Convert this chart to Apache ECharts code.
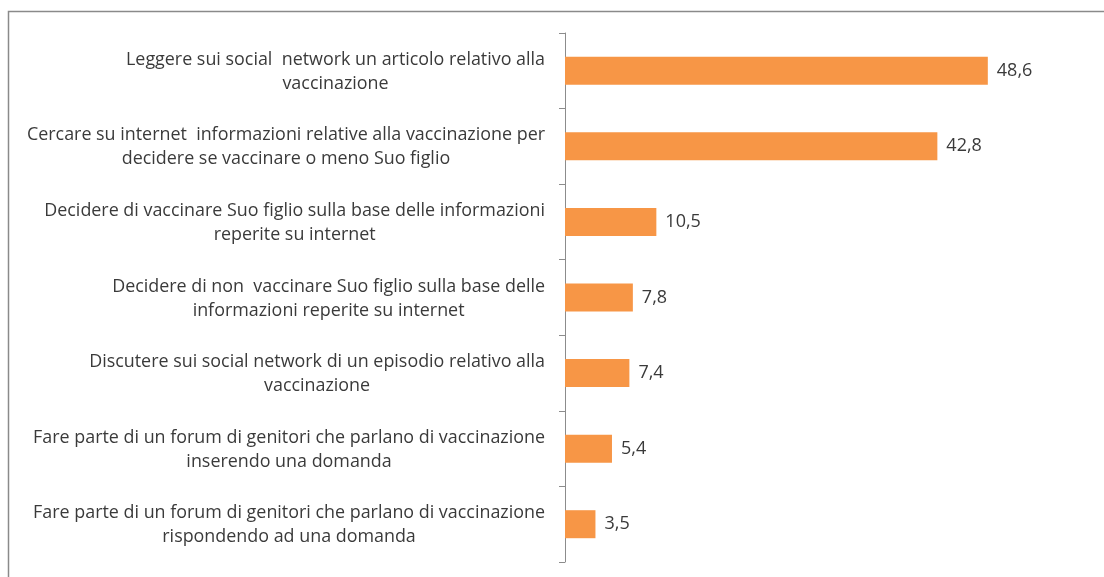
<!DOCTYPE html>
<html>
<head>
<meta charset="utf-8">
<script src="https://cdn.jsdelivr.net/npm/echarts@6/dist/echarts.min.js"></script>
<style>
  html, body { margin: 0; padding: 0; background: #ffffff; }
  #chart { width: 1104px; height: 577px; }
</style>
</head>
<body>
<div id="chart"></div>
<script>
// Activities related to vaccination online (percentages), top to bottom
const categories = [
  'Leggere sui social  network un articolo relativo alla\nvaccinazione',
  'Cercare su internet  informazioni relative alla vaccinazione per\ndecidere se vaccinare o meno Suo figlio',
  'Decidere di vaccinare Suo figlio sulla base delle informazioni\nreperite su internet',
  'Decidere di non  vaccinare Suo figlio sulla base delle\ninformazioni reperite su internet',
  'Discutere sui social network di un episodio relativo alla\nvaccinazione',
  'Fare parte di un forum di genitori che parlano di vaccinazione\ninserendo una domanda',
  'Fare parte di un forum di genitori che parlano di vaccinazione\nrispondendo ad una domanda'
];
const values = [48.6, 42.8, 10.5, 7.8, 7.4, 5.4, 3.5];

const FONT = '"Open Sans"';
const TEXT = '#3a3a3a';

const chart = echarts.init(document.getElementById('chart'));
chart.setOption({
  animation: false,
  backgroundColor: '#ffffff',
  graphic: [{
    type: 'rect',
    shape: { x: 8.5, y: 11.5, width: 1200, height: 700 },
    style: { fill: 'none', stroke: '#8a8a8a', lineWidth: 1.5 },
    silent: true
  }],
  grid: { left: 565, right: 17, top: 33, bottom: 15, containLabel: false },
  xAxis: {
    type: 'value', min: 0, max: 60, show: false
  },
  yAxis: {
    type: 'category',
    data: categories,
    inverse: true,
    axisLine: { show: true, lineStyle: { color: '#8c8c8c', width: 1 } },
    axisTick: { show: true, length: 6, inside: false, lineStyle: { color: '#8c8c8c' } },
    axisLabel: {
      margin: 20,
      align: 'right',
      formatter: function (v) {
        return v.split('\n').map(function (l) { return '{c|' + l + '}'; }).join('\n');
      },
      rich: {
        c: { align: 'center', fontFamily: FONT, fontSize: 17.9, color: TEXT, lineHeight: 24, padding: [2, 0, 0, 0] }
      }
    },
    splitLine: { show: false }
  },
  series: [{
    type: 'bar',
    data: values,
    barWidth: 28,
    itemStyle: { color: '#f79646' },
    label: {
      show: true,
      position: 'right',
      distance: 9,
      fontFamily: FONT,
      fontSize: 18,
      color: TEXT,
      formatter: function (p) { return String(p.value.toFixed(1)).replace('.', ','); }
    }
  }]
});
</script>
</body>
</html>
